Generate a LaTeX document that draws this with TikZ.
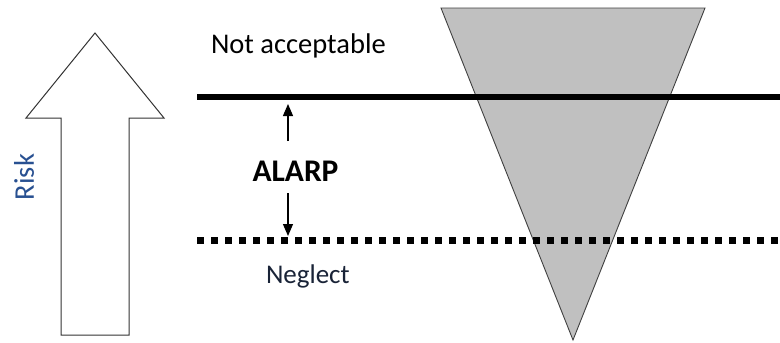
\documentclass[tikz,border=0pt]{standalone}
\usepackage{fontspec}
\setmainfont{Carlito}
\usetikzlibrary{arrows.meta}
\definecolor{riskblue}{RGB}{40,80,145}
\definecolor{negcol}{RGB}{25,35,55}
\definecolor{trigray}{RGB}{192,192,192}
\tikzset{
  lbl/.style={inner sep=0pt, outer sep=0pt, anchor=base west, font=\fontsize{27}{30}\selectfont},
  solidline/.style={line width=6.5pt, black},
  dotline/.style={line width=7pt, black, dash pattern=on 7pt off 7pt, line cap=butt},
  thinarrow/.style={line width=1.3pt, -{Triangle[length=12pt,width=10pt]}},
  outline/.style={draw=black!80, line width=1pt}
}
\begin{document}
\begin{tikzpicture}[x=1pt,y=-1pt]
\useasboundingbox (0,0) rectangle (780,343);
% big risk arrow
\draw[outline, fill=white] (61,335) -- (61,118) -- (26,118) -- (95,33) -- (164,118) -- (129,118) -- (129,335) -- cycle;
\node[rotate=90, text=riskblue, inner sep=0pt, font=\fontsize{28.5}{30}\selectfont] (risk) at (24,177) {Risk};
% triangle
\draw[draw=black!75, line width=0.9pt, fill=trigray] (441,8) -- (705,8) -- (573,340) -- cycle;
% lines
\coordinate (top0) at (197,97);
\coordinate (top1) at (780,97);
\coordinate (bot0) at (197,240.5);
\coordinate (bot1) at (780,240.5);
\draw[solidline] (top0) -- (top1);
\draw[dotline] (bot0) -- (bot1);
% texts
\node[lbl, font=\fontsize{28.5}{30}\selectfont] (na) at (211,53) {Not acceptable};
\node[lbl, text=negcol] (neg) at (266,283) {Neglect};
\node[inner sep=0pt, anchor=base, font=\fontsize{31.5}{33}\selectfont\bfseries] (alarp) at (295.5,181) {ALARP};
% alarp arrows
\coordinate (u0) at (288,141);
\coordinate (u1) at (288,104);
\coordinate (d0) at (288,193);
\coordinate (d1) at (288,236);
\draw[thinarrow] (u0) -- (u1);
\draw[thinarrow] (d0) -- (d1);
\end{tikzpicture}
\end{document}
